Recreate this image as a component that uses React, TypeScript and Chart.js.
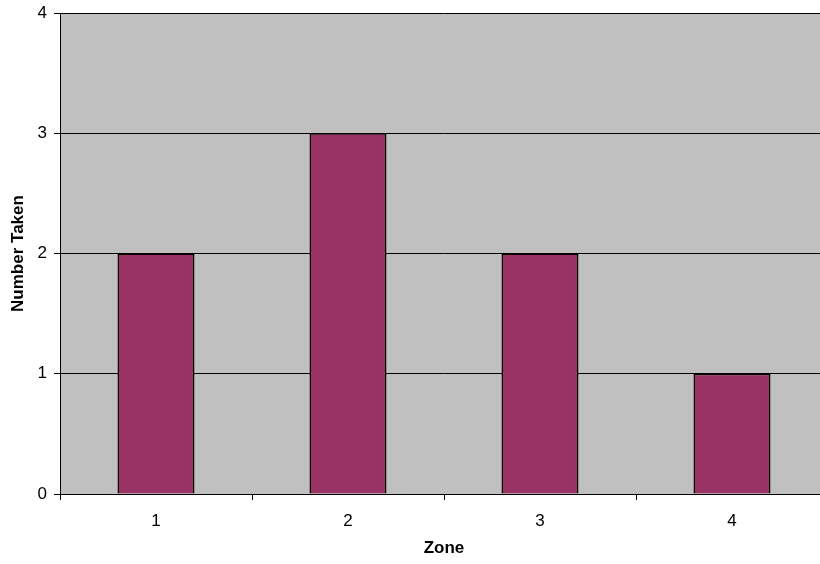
import React, { useEffect, useRef } from "react";
import { Chart, registerables } from "chart.js";

Chart.register(...registerables);

const categories = ["1", "2", "3", "4"];
const values = [2, 3, 2, 1];
const yTicks = [0, 1, 2, 3, 4];

const bgPlugin = {
  id: "plotBg",
  beforeDraw(chart: any) {
    const { ctx, chartArea } = chart;
    ctx.save();
    ctx.fillStyle = "#C0C0C0";
    ctx.fillRect(chartArea.left, chartArea.top, chartArea.right - chartArea.left, chartArea.bottom - chartArea.top);
    ctx.restore();
  },
};

export default function App() {
  const ref = useRef<HTMLCanvasElement>(null);
  useEffect(() => {
    const font = { family: "'Liberation Sans', Arial, sans-serif", size: 17 };
    const chart = new Chart(ref.current!, {
      type: "bar",
      data: {
        labels: categories,
        datasets: [
          {
            data: values,
            backgroundColor: "#993366",
            borderColor: "#000000",
            borderWidth: 1.5,
            categoryPercentage: 1,
            barPercentage: 0.401,
          },
        ],
      },
      options: {
        responsive: false,
        animation: false,
        layout: { padding: { left: 0, top: 13, right: 2, bottom: 0 } },
        plugins: { legend: { display: false }, tooltip: { enabled: false } },
        scales: {
          x: {
            grid: { drawOnChartArea: false, drawTicks: true, tickLength: 6, color: "#000" },
            border: { color: "#000", width: 1 },
            ticks: { color: "#000", font, padding: 11 },
            title: { display: true, text: "Zone", color: "#000", font: { ...font, weight: "bold" }, padding: { top: 4, bottom: 5 } },
            afterFit: (s: any) => { s.height = 70; s.paddingLeft = 0; s.paddingRight = 0; },
          },
          y: {
            min: 0,
            max: 4,
            afterBuildTicks: (s: any) => { s.ticks = yTicks.map((v) => ({ value: v })); },
            grid: { color: "#000", tickLength: 6, drawTicks: true },
            border: { color: "#000", width: 1 },
            ticks: { color: "#000", font, padding: 7 },
            title: { display: true, text: "Number Taken", color: "#000", font: { ...font, weight: "bold" }, padding: { top: 8, bottom: 0 } },
            afterFit: (s: any) => { s.width = 60; s.paddingTop = 0; s.paddingBottom = 0; },
          },
        },
      },
      plugins: [bgPlugin],
    });
    return () => chart.destroy();
  }, []);
  return (
    <div style={{ position: "absolute", left: 0, top: 0, width: 820, height: 564, overflow: "hidden", background: "#fff" }}>
      <canvas ref={ref} width={830} height={564} style={{ width: 830, height: 564, display: "block" }} />
    </div>
  );
}
